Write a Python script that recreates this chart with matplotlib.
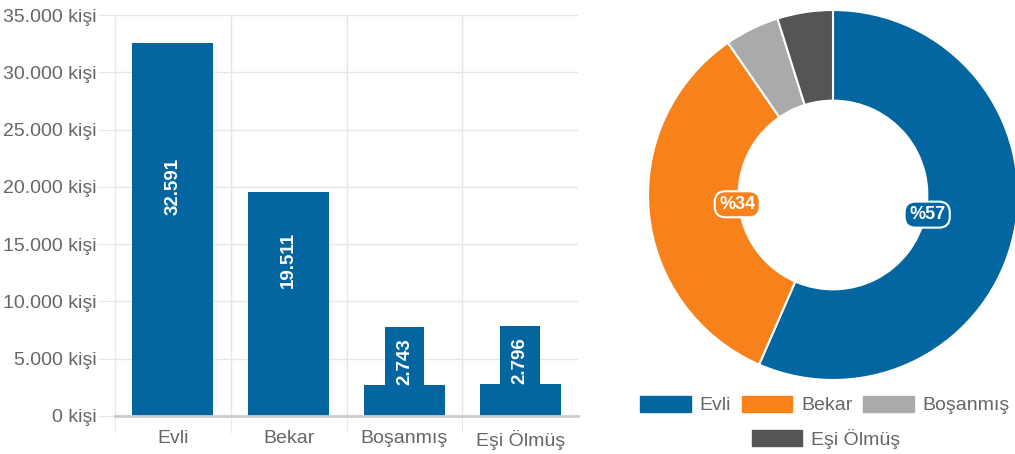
import matplotlib
matplotlib.use('Agg')
import matplotlib.pyplot as plt
from matplotlib.patches import Patch

plt.rcParams['font.family'] = ['Liberation Sans', 'DejaVu Sans']

# data
categories = ['Evli', 'Bekar', 'Boşanmış', 'Eşi Ölmüş']
counts = [32591, 19511, 2743, 2796]
colors = ['#0466a1', '#f7821b', '#aaaaaa', '#555555']
bar_color = '#0466a1'
y_ticks = [0, 5000, 10000, 15000, 20000, 25000, 30000, 35000]

def tr_num(v):
    return f'{v:,}'.replace(',', '.')

grid_c = '#e6e6e6'
text_c = '#666666'

fig = plt.figure(figsize=(10.15, 4.54), dpi=100)

# bar chart
ax = fig.add_axes([115 / 1015, 1 - 416 / 454, 463 / 1015, 401 / 454])
x = list(range(len(categories)))
ax.bar(x, counts, width=0.7, color=bar_color, zorder=3)
ax.set_xlim(-0.5, len(categories) - 0.5)
ax.set_ylim(0, 35000)
ax.set_yticks(y_ticks)
ax.set_yticklabels([tr_num(v) + ' kişi' for v in y_ticks])
ax.set_xticks(x)
ax.set_xticklabels(categories)
ax.set_xticks([i - 0.5 for i in x], minor=True)
ax.grid(axis='y', color=grid_c, lw=1, zorder=0)
ax.grid(axis='x', which='minor', color=grid_c, lw=1, zorder=0)
ax.tick_params(axis='y', length=12, color=grid_c, pad=1, labelsize=14, labelcolor=text_c)
ax.tick_params(axis='x', which='major', length=0, pad=10, labelsize=14, labelcolor=text_c)
ax.tick_params(axis='x', which='minor', length=12, color=grid_c)
for s in ['top', 'right', 'left']:
    ax.spines[s].set_visible(False)
ax.spines['bottom'].set_color('#cccccc')
ax.spines['bottom'].set_linewidth(2)
ax.spines['bottom'].set_zorder(4)

for xi, v in zip(x, counts):
    box = dict(boxstyle='square,pad=0.6', fc=bar_color, ec='none')
    if v < 5000:
        ax.text(xi, v, tr_num(v), rotation=90, ha='center', va='bottom',
                color='white', fontsize=13.5, fontweight='bold', bbox=box, zorder=4)
    else:
        ax.text(xi, 0.49 * v + 4100, tr_num(v), rotation=90, ha='center', va='center',
                color='white', fontsize=13.5, fontweight='bold', zorder=4)

# donut
r_px = 185
cx, cy = 833, 195
pax = fig.add_axes([(cx - r_px) / 1015, 1 - (cy + r_px) / 454, 2 * r_px / 1015, 2 * r_px / 454])
wedges, _, autotexts = pax.pie(
    counts, colors=colors, startangle=90, counterclock=False,
    wedgeprops=dict(width=0.49, edgecolor='white', linewidth=1.5),
    autopct=lambda p: f'%{p:.0f}' if p > 10 else '', pctdistance=0.52)
pax.set_xlim(-1, 1)
pax.set_ylim(-1, 1)
for t, c in zip(autotexts, colors):
    t.set_color('white')
    t.set_fontsize(13)
    t.set_fontweight('bold')
    t.set_bbox(dict(boxstyle='round,pad=0.25,rounding_size=0.6', fc=c, ec='white', lw=1.5))

# legend, two rows
h = [Patch(color=c) for c in colors]
kw = dict(frameon=False, fontsize=14, handlelength=2.6, handleheight=0.9,
          handletextpad=0.45, columnspacing=0.55, labelcolor=text_c,
          borderpad=0, borderaxespad=0)
fig.legend(h[:3], categories[:3], loc='center', ncol=3,
           bbox_to_anchor=(825 / 1015, 1 - 405 / 454), **kw)
fig.legend(h[3:], categories[3:], loc='center', ncol=1,
           bbox_to_anchor=(826 / 1015, 1 - 439 / 454), **kw)

fig.savefig('out.png', dpi=100)
